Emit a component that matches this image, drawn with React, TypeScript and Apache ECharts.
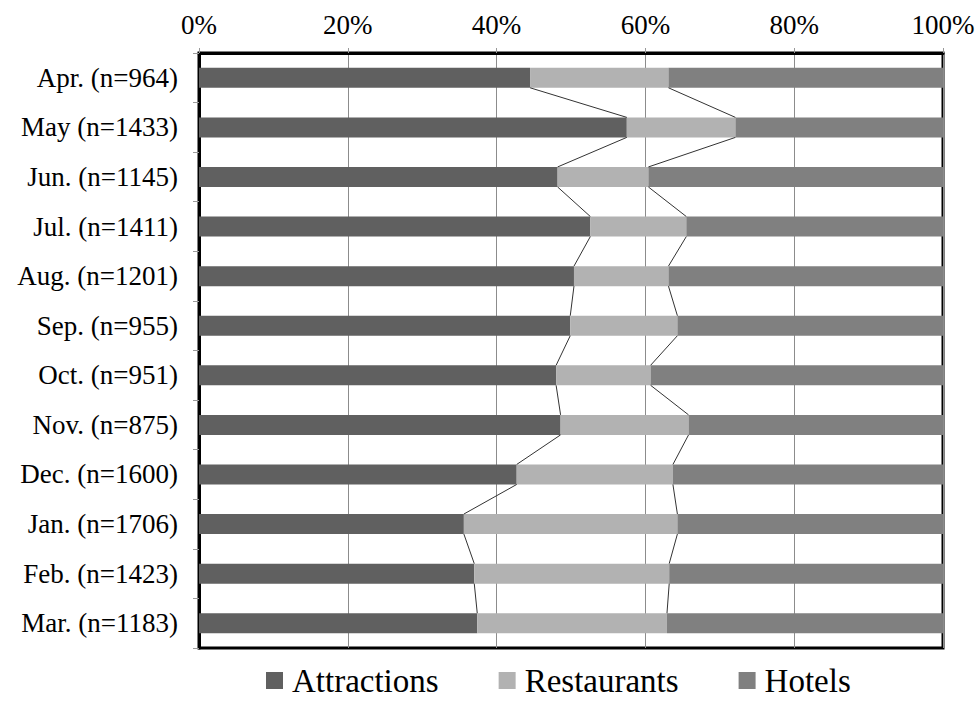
import React, { useEffect, useRef } from "react";
import * as echarts from "echarts";

// Monthly share (%) of reviews by venue type
const months = [
  "Apr. (n=964)",
  "May (n=1433)",
  "Jun. (n=1145)",
  "Jul. (n=1411)",
  "Aug. (n=1201)",
  "Sep. (n=955)",
  "Oct. (n=951)",
  "Nov. (n=875)",
  "Dec. (n=1600)",
  "Jan. (n=1706)",
  "Feb. (n=1423)",
  "Mar. (n=1183)",
];
const attractions = [44.5, 57.5, 48.2, 52.6, 50.4, 49.9, 48.0, 48.6, 42.7, 35.6, 37.0, 37.4];
const restaurants = [18.6, 14.6, 12.2, 12.9, 12.7, 14.4, 12.7, 17.2, 21.0, 28.7, 26.2, 25.5];
const hotels = [36.9, 27.9, 39.6, 34.5, 36.9, 35.7, 39.3, 34.2, 36.3, 35.7, 36.8, 37.1];
const xTicks = [0, 20, 40, 60, 80, 100];

const FONT = "Liberation Serif";
const BAR_W = 20;

// Series lines joining the segment boundaries of consecutive bars
const seriesLines = months.slice(0, -1).map((_, i) => [
  attractions[i],
  attractions[i] + restaurants[i],
  attractions[i + 1],
  attractions[i + 1] + restaurants[i + 1],
  i,
]);

export default function App() {
  const ref = useRef<HTMLDivElement>(null);

  useEffect(() => {
    document.body.style.margin = "0";
    const chart = echarts.init(ref.current!, null, { renderer: "svg" });
    chart.setOption({
      animation: false,
      backgroundColor: "#ffffff",
      grid: {
        left: 199,
        right: 36,
        top: 53,
        bottom: 54,
        show: true,
        borderColor: "#000",
        borderWidth: 3,
      },
      legend: {
        data: ["Attractions", "Restaurants", "Hotels"],
        top: 664,
        left: 266,
        padding: 0,
        icon: "rect",
        itemWidth: 17,
        itemHeight: 17,
        itemGap: 60,
        textStyle: {
          fontFamily: FONT,
          fontSize: 33,
          lineHeight: 30,
          color: "#000",
          padding: [0, 0, 0, 4],
        },
      },
      xAxis: {
        type: "value",
        position: "top",
        min: xTicks[0],
        max: xTicks[xTicks.length - 1],
        interval: 20,
        axisLine: { show: true, lineStyle: { color: "#000", width: 3 } },
        axisTick: { show: true, length: 5, lineStyle: { color: "#999" } },
        splitLine: { show: true, lineStyle: { color: "#8c8c8c", width: 1 } },
        axisLabel: {
          formatter: "{value}%",
          fontFamily: FONT,
          fontSize: 27,
          color: "#000",
          margin: 15,
        },
      },
      yAxis: {
        type: "category",
        data: months,
        inverse: true,
        axisLine: { show: true, lineStyle: { color: "#000", width: 3 } },
        axisTick: { show: true, length: 6, lineStyle: { color: "#999" } },
        axisLabel: { fontFamily: FONT, fontSize: 27, color: "#000", margin: 21 },
      },
      series: [
        {
          name: "Attractions",
          type: "bar",
          stack: "total",
          barWidth: BAR_W,
          itemStyle: { color: "#606060" },
          data: attractions,
        },
        {
          name: "Restaurants",
          type: "bar",
          stack: "total",
          barWidth: BAR_W,
          itemStyle: { color: "#b2b2b2" },
          data: restaurants,
        },
        {
          name: "Hotels",
          type: "bar",
          stack: "total",
          barWidth: BAR_W,
          itemStyle: { color: "#808080" },
          data: hotels,
        },
        {
          name: "lines",
          type: "custom",
          z: 3,
          encode: { x: [0, 1, 2, 3], y: 4 },
          data: seriesLines,
          renderItem: (params: any, api: any) => {
            const i = api.value(4);
            const half = BAR_W / 2;
            const a0 = api.coord([api.value(0), i]);
            const c0 = api.coord([api.value(1), i]);
            const a1 = api.coord([api.value(2), i + 1]);
            const c1 = api.coord([api.value(3), i + 1]);
            const style = { stroke: "#333", lineWidth: 1, fill: null };
            return {
              type: "group",
              children: [
                {
                  type: "line",
                  shape: { x1: a0[0], y1: a0[1] + half, x2: a1[0], y2: a1[1] - half },
                  style,
                },
                {
                  type: "line",
                  shape: { x1: c0[0], y1: c0[1] + half, x2: c1[0], y2: c1[1] - half },
                  style,
                },
              ],
            };
          },
        },
      ],
    });
    return () => chart.dispose();
  }, []);

  return <div ref={ref} style={{ width: 979, height: 702 }} />;
}
